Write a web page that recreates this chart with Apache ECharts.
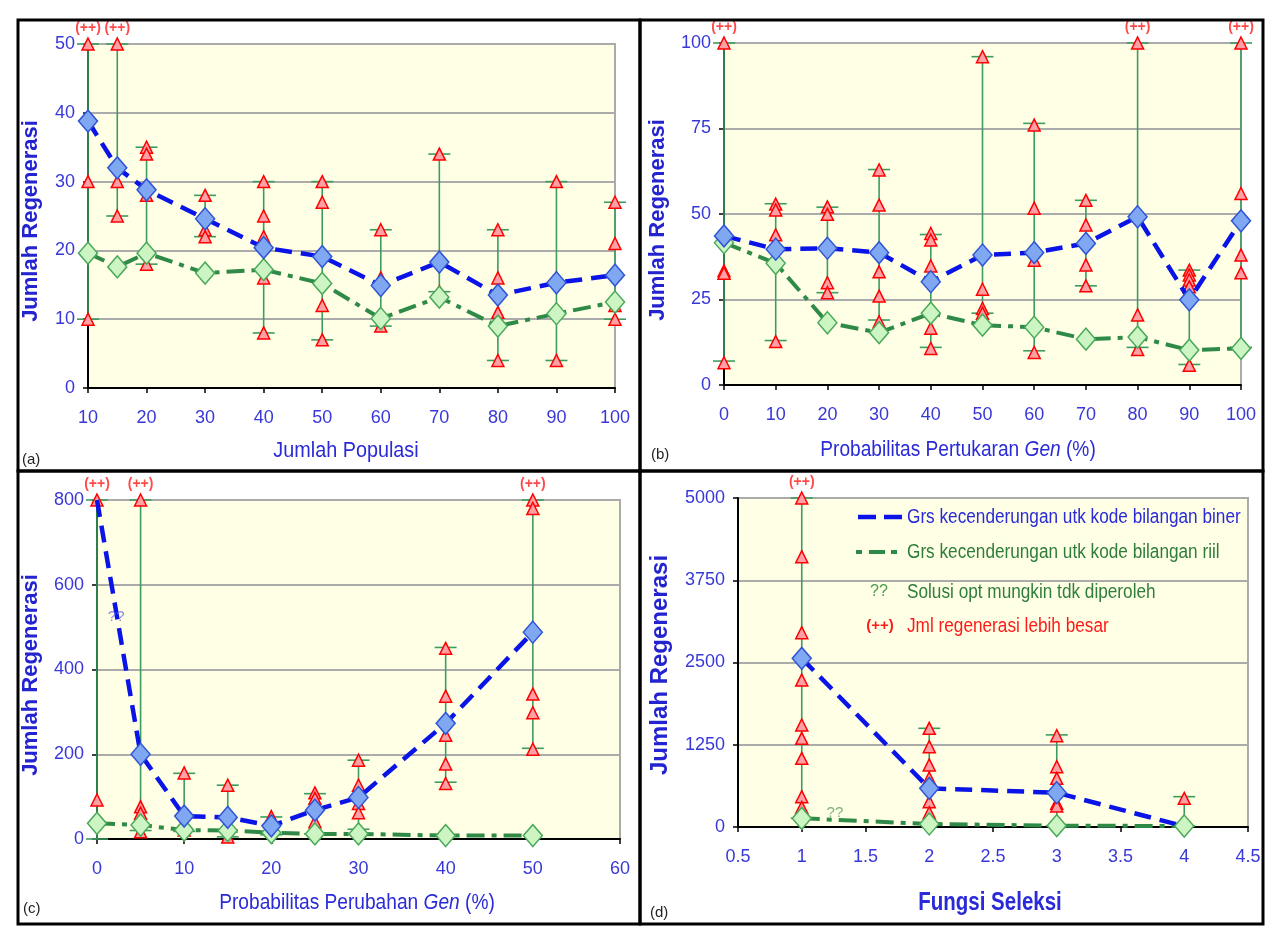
<!DOCTYPE html>
<html>
<head>
<meta charset="utf-8">
<script src="https://cdn.jsdelivr.net/npm/echarts@6/dist/echarts.min.js"></script>
<style>
  html, body { margin: 0; padding: 0; background: #fff; }
  #chart { width: 1279px; height: 944px; }
</style>
</head>
<body>
<div id="chart"></div>
<script>
// (a) Jumlah Populasi
const aX = [10, 15, 20, 30, 40, 50, 60, 70, 80, 90, 100]
const aBiner = [38.8, 32, 28.8, 24.6, 20.4, 19.1, 14.9, 18.3, 13.5, 15.3, 16.4]
const aRiil = [19.6, 17.6, 19.6, 16.7, 17.2, 15.2, 10.1, 13.2, 9, 10.8, 12.5]
const aLow = [10, 25, 18, 22, 8, 7, 9, 14, 4, 4, 10]
const aHigh = [50, 50, 35, 28, 30, 30, 23, 34, 23, 30, 27]
const aRuns = [[50, 30, 10], [50, 30, 25], [35, 34, 28, 18], [28, 23, 22], [30, 25, 22, 16, 8], [30, 27, 12, 7], [23, 16, 9], [34, 14], [23, 16, 11, 4], [30, 16, 4], [27, 21, 12, 10]]
const aPlus = [10, 15]
const aXTicks = [10, 100, 10]
const aYTicks = [0, 50, 10]

// (b) Probabilitas Pertukaran Gen
const bX = [0, 10, 20, 30, 40, 50, 60, 70, 80, 90, 100]
const bBiner = [43.6, 39.7, 40, 38.7, 30.2, 38, 38.7, 41.4, 49.2, 24.9, 48]
const bRiil = [41.6, 35.6, 18.2, 15.3, 21, 17.5, 16.9, 13.4, 14, 10.2, 10.7]
const bLow = [7, 13, 27, 19, 11, 21, 10, 29, 11, 6, 11]
const bHigh = [100, 53, 52, 63, 44, 96, 76.5, 54, 100, 33.6, 100]
const bRuns = [[100, 33.4, 32.7, 6.5], [52.9, 51.2, 43.9, 12.7], [52.1, 49.9, 29.9, 27], [62.9, 52.6, 33.1, 26, 18.5], [44.3, 42.4, 34.8, 16.6, 10.7], [96, 28, 22.4, 21], [76, 51.7, 36.5, 9.5], [54, 46.8, 35.1, 29], [100, 20.5, 10.4], [33.6, 32.2, 30.7, 28.7, 5.8], [100, 56, 38, 32.8]]
const bPlus = [0, 80, 100]
const bXTicks = [0, 100, 10]
const bYTicks = [0, 100, 25]

// (c) Probabilitas Perubahan Gen
const cX = [0, 5, 10, 15, 20, 25, 30, 40, 50]
const cBiner = [800, 200, 54, 51, 31, 68, 98, 273, 488]
const cRiil = [37, 33, 21, 20, 15, 12, 12, 8, 8]
const cLow = [0, 20, 18, 5, 10, 12, 23, 134, 214]
const cHigh = [800, 800, 155, 127, 52, 107, 186, 452, 800]
const cRuns = [[800, 92], [800, 76, 61, 17], [156, 61, 21], [127, 5], [53, 37], [109, 96, 41], [186, 127, 84, 62], [450, 337, 245, 177, 131], [800, 780, 342, 298, 212]]
const cPlus = [0, 5, 50]
const cNoMark = [0]
const cNote = [2.2, 525]
const cXTicks = [0, 60, 10]
const cYTicks = [0, 800, 200]

// (d) Fungsi Seleksi
const dX = [1, 2, 3, 4]
const dBiner = [2563, 588, 521, 10]
const dRiil = [132, 46, 20, 15]
const dLow = [132, 46, 20, 15]
const dHigh = [5000, 1500, 1400, 461]
const dRuns = [[5000, 4108, 2953, 2234, 1550, 1348, 1044, 461, 299], [1500, 1221, 943, 745, 385, 218], [1388, 917, 740, 360, 319], [436]]
const dPlus = [1]
const dNoMark = [3]
const dNote = [1.26, 213]
const dXTicks = [0.5, 4.5, 0.5]
const dYTicks = [0, 5000, 1250]

const FONT = "'Liberation Sans', Arial, sans-serif"
const TICK_BLUE = '#3838d8'
const BLUE = '#0a14e6'
const GREEN = '#2f8a48'

const grids = [
  { left: 88, top: 44, width: 527, height: 344 },
  { left: 724, top: 43, width: 517, height: 342 },
  { left: 97, top: 500, width: 523, height: 339 },
  { left: 738, top: 498, width: 510, height: 329 }
]

const xAxes = []
const yAxes = []
const series = []

function addPanel(i, xs, biner, riil, low, high, runs, plus, noMark, xt, yt) {
  xAxes.push({
    type: 'value', gridIndex: i, min: xt[0], max: xt[1], interval: xt[2],
    axisLine: { show: true, onZero: false, lineStyle: { color: '#000', width: 2 } },
    axisTick: { show: true, length: 5, lineStyle: { color: '#000', width: 1.5 } },
    axisLabel: { color: TICK_BLUE, fontSize: 18, fontFamily: FONT, margin: 21, formatter: v => String(v) },
    splitLine: { show: false }
  })
  yAxes.push({
    type: 'value', gridIndex: i, min: yt[0], max: yt[1], interval: yt[2],
    axisLine: { show: true, onZero: false, lineStyle: { color: '#000', width: 2 } },
    axisTick: { show: true, length: 5, lineStyle: { color: '#000', width: 1.5 } },
    axisLabel: { color: TICK_BLUE, fontSize: 18, fontFamily: FONT, margin: 13, formatter: v => String(v) },
    splitLine: { show: true, lineStyle: { color: '#ababab', width: 2 } }
  })
  // garis rentang (min - max)
  series.push({
    type: 'custom', xAxisIndex: i, yAxisIndex: i, z: 2, clip: false,
    data: xs.map((x, k) => [x, low[k], high[k]]),
    renderItem: function (params, api) {
      const top = api.coord([api.value(0), api.value(2)])
      const bot = api.coord([api.value(0), api.value(1)])
      const st = { stroke: '#3d9c60', lineWidth: 1.6 }
      return {
        type: 'group',
        children: [
          { type: 'line', shape: { x1: top[0], y1: top[1], x2: bot[0], y2: bot[1] }, style: st },
          { type: 'line', shape: { x1: top[0] - 11, y1: top[1], x2: top[0] + 11, y2: top[1] }, style: st },
          { type: 'line', shape: { x1: bot[0] - 11, y1: bot[1], x2: bot[0] + 11, y2: bot[1] }, style: st }
        ]
      }
    }
  })
  // nilai tiap percobaan
  const pts = []
  xs.forEach((x, k) => runs[k].forEach(v => pts.push([x, v])))
  series.push({
    type: 'scatter', xAxisIndex: i, yAxisIndex: i, z: 3,
    symbol: 'triangle', symbolSize: [12, 12],
    itemStyle: { color: '#ff9fa6', borderColor: '#ff0000', borderWidth: 1.5, opacity: 1 },
    data: pts
  })
  series.push({
    type: 'line', xAxisIndex: i, yAxisIndex: i, z: 4, symbol: 'none',
    lineStyle: { color: GREEN, width: 4, type: [18, 7, 5, 7] },
    data: xs.map((x, k) => [x, riil[k]])
  })
  series.push({
    type: 'line', xAxisIndex: i, yAxisIndex: i, z: 4, symbol: 'none',
    lineStyle: { color: BLUE, width: 4.5, type: [17, 9] },
    data: xs.map((x, k) => [x, biner[k]])
  })
  series.push({
    type: 'scatter', xAxisIndex: i, yAxisIndex: i, z: 5,
    symbol: 'diamond', symbolSize: [19, 22],
    itemStyle: { color: '#cdf5c4', borderColor: '#4aa95a', borderWidth: 1.5, opacity: 1 },
    data: xs.map((x, k) => [x, riil[k]])
  })
  series.push({
    type: 'scatter', xAxisIndex: i, yAxisIndex: i, z: 6,
    symbol: 'diamond', symbolSize: [19, 22],
    itemStyle: { color: '#80a8f2', borderColor: '#2f55d4', borderWidth: 1.5, opacity: 1 },
    data: xs.map((x, k) => [x, biner[k]]).filter((p, k) => noMark.indexOf(k) < 0)
  })
  // tanda (++)
  series.push({
    type: 'scatter', xAxisIndex: i, yAxisIndex: i, z: 7, symbolSize: 1,
    itemStyle: { color: 'rgba(0,0,0,0)' },
    label: { show: true, position: 'top', distance: 8, formatter: '(++)', color: '#ff1a1a', fontSize: 14, fontWeight: 'bold', fontFamily: FONT },
    data: plus.map(x => [x, yt[1]])
  })
}

addPanel(0, aX, aBiner, aRiil, aLow, aHigh, aRuns, aPlus, [], aXTicks, aYTicks)
addPanel(1, bX, bBiner, bRiil, bLow, bHigh, bRuns, bPlus, [], bXTicks, bYTicks)
addPanel(2, cX, cBiner, cRiil, cLow, cHigh, cRuns, cPlus, cNoMark, cXTicks, cYTicks)
addPanel(3, dX, dBiner, dRiil, dLow, dHigh, dRuns, dPlus, dNoMark, dXTicks, dYTicks)

// catatan ??
series.push({
  type: 'scatter', xAxisIndex: 2, yAxisIndex: 2, z: 7, symbolSize: 1,
  itemStyle: { color: 'rgba(0,0,0,0)' },
  label: { show: true, position: 'inside', formatter: '??', color: '#7070dc', fontSize: 15, fontFamily: FONT },
  data: [cNote]
})
series.push({
  type: 'scatter', xAxisIndex: 3, yAxisIndex: 3, z: 7, symbolSize: 1,
  itemStyle: { color: 'rgba(0,0,0,0)' },
  label: { show: true, position: 'inside', formatter: '??', color: '#5c9e5c', fontSize: 15, fontFamily: FONT },
  data: [dNote]
})

const yTitle = (x, y, size) => ({
  type: 'text', x: x, y: y, rotation: Math.PI / 2,
  style: { text: 'Jumlah Regenerasi', fill: '#2323cf', font: 'bold ' + size + 'px ' + FONT, align: 'center', verticalAlign: 'middle' }
})
const xTitle = (x, y, parts, size, bold, sx) => ({
  type: 'text', x: x, y: y, scaleX: sx,
  style: {
    text: parts, align: 'center', verticalAlign: 'middle',
    rich: {
      n: { fill: '#2a2ad8', fontSize: size, fontFamily: FONT, fontWeight: bold ? 'bold' : 'normal' },
      i: { fill: '#2a2ad8', fontSize: size, fontFamily: FONT, fontStyle: 'italic' }
    }
  }
})
const box = (x, y, w, h) => ({
  type: 'rect', shape: { x: x, y: y, width: w, height: h },
  style: { fill: 'none', stroke: '#000', lineWidth: 3 }, z: 100
})
const tag = (x, y, t) => ({
  type: 'text', x: x, y: y,
  style: { text: t, fill: '#222', font: '15px ' + FONT, verticalAlign: 'middle' }
})
const legText = (y, t, c) => ({
  type: 'text', x: 907, y: y, scaleX: 0.86,
  style: { text: t, fill: c, font: '20px ' + FONT, verticalAlign: 'middle' }
})

const graphic = [
  box(18, 20, 622, 451), box(640, 20, 623, 451), box(18, 471, 622, 453), box(640, 471, 623, 453),
  tag(22, 460, '(a)'), tag(651, 455, '(b)'), tag(23, 909, '(c)'), tag(650, 913, '(d)'),
  yTitle(31, 221, 22), yTitle(658, 220, 22), yTitle(31, 675, 22), yTitle(660, 665, 24),
  xTitle(346, 451, '{n|Jumlah Populasi}', 22, false, 0.9),
  xTitle(958, 450, '{n|Probabilitas Pertukaran }{i|Gen}{n| (%)}', 22, false, 0.87),
  xTitle(357, 903, '{n|Probabilitas Perubahan }{i|Gen}{n| (%)}', 22, false, 0.87),
  xTitle(990, 903, '{n|Fungsi Seleksi}', 25, true, 0.82),
  // legenda
  { type: 'line', shape: { x1: 858, y1: 517, x2: 902, y2: 517 }, style: { stroke: BLUE, lineWidth: 4.5, lineDash: [18, 8] } },
  { type: 'line', shape: { x1: 856, y1: 552, x2: 902, y2: 552 }, style: { stroke: GREEN, lineWidth: 4, lineDash: [6, 7, 16, 6] } },
  { type: 'text', x: 879, y: 592, style: { text: '??', fill: '#4c9a4c', font: '16px ' + FONT, align: 'center', verticalAlign: 'middle' } },
  { type: 'text', x: 880, y: 626, style: { text: '(++)', fill: '#ff1a1a', font: 'bold 15px ' + FONT, align: 'center', verticalAlign: 'middle' } },
  legText(517, 'Grs kecenderungan utk kode bilangan biner', '#2a2ad8'),
  legText(552, 'Grs kecenderungan utk kode bilangan riil', '#2e7d3a'),
  legText(592, 'Solusi opt mungkin tdk diperoleh', '#2e7d3a'),
  legText(626, 'Jml regenerasi lebih besar', '#ff1a1a')
]

const myChart = echarts.init(document.getElementById('chart'), null, { renderer: 'canvas' })
myChart.setOption({
  animation: false,
  backgroundColor: '#fff',
  grid: grids.map(g => Object.assign({ show: true, backgroundColor: '#ffffe6', borderColor: '#ababab', borderWidth: 2 }, g)),
  xAxis: xAxes,
  yAxis: yAxes,
  series: series,
  graphic: graphic
})
</script>
</body>
</html>
